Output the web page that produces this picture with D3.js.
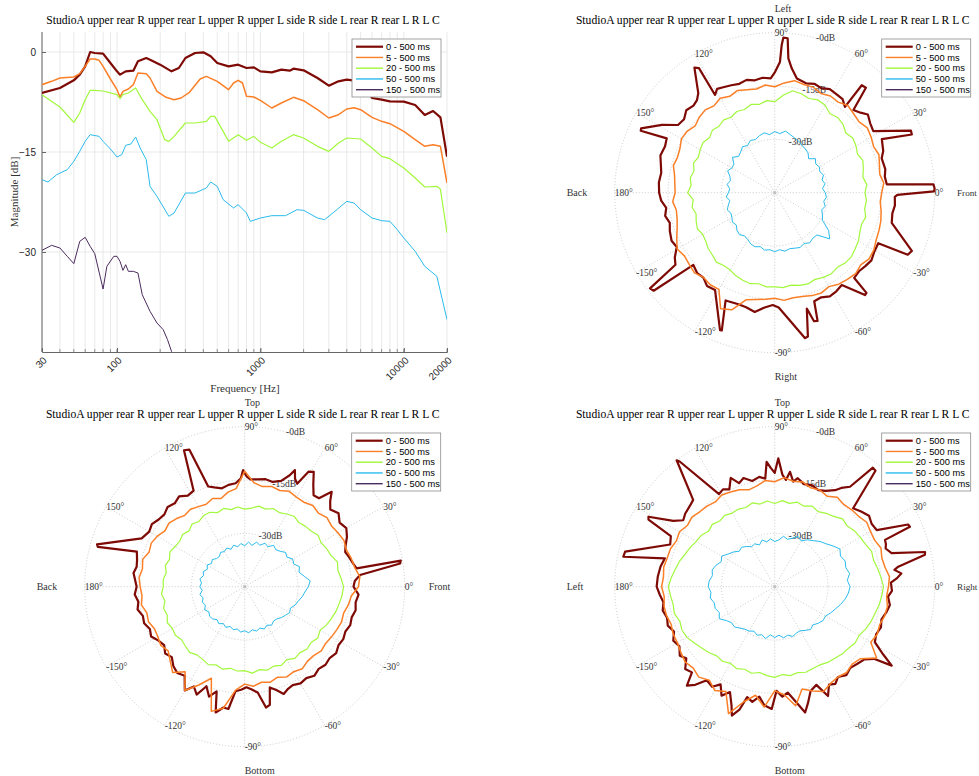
<!DOCTYPE html>
<html><head><meta charset="utf-8">
<script src="https://cdn.jsdelivr.net/npm/d3@7"></script>
<style>body{margin:0;background:#fff}svg{display:block}</style>
</head><body>
<svg id="c" width="979" height="776"></svg>
<script>
// ---------------- DATA ----------------
const titleText = "StudioA upper rear R upper rear L upper R upper L side R side L rear R rear L R L C";
const seriesLabels = ["0 - 500 ms", "5 - 500 ms", "20 - 500 ms", "50 - 500 ms", "150 - 500 ms"];
const xTickValues = [30, 100, 1000, 10000, 20000];
const yTickValues = [0, -15, -30];
const polarAngleTicks = [0, 30, 60, 90, 120, 150, 180, -150, -120, -90, -60, -30];
const polarRTicks = [0, -15, -30];

// frequency responses [Hz, dB]
const fr0 = [[30,-6.15],[40,-5.4],[50,-4.25],[55,-3.4],[60,-2.15],[65,0],[70,-0.15],[80,-0.25],[90,-1.65],[100,-2.9],[105,-3.4],[115,-2.9],[130,-2.8],[140,-1.4],[160,-0.9],[170,-1.15],[200,-1.9],[240,-2.9],[270,-2.4],[300,-0.9],[350,-0.15],[400,-0.05],[450,-0.65],[500,-1.65],[600,-2.15],[700,-1.9],[800,-2.4],[900,-2.3],[1000,-2.9],[1200,-3.05],[1400,-2.65],[1600,-2.8],[1700,-2.5],[2000,-2.75],[2500,-3.9],[3000,-5.05],[3500,-4.4],[4000,-4.15],[5000,-4.4],[5500,-5.6],[6000,-6.9],[7000,-7.15],[8000,-7.4],[10000,-7.45],[12000,-7.95],[14000,-9.45],[16000,-8.85],[18000,-9.8],[20000,-15.7]];
const fr5 = [[30,-4.9],[35,-4.4],[40,-3.9],[50,-3.75],[55,-3.25],[60,-2.15],[65,-1.05],[70,-1.05],[75,-1.25],[80,-2.15],[90,-4.05],[100,-5.65],[105,-6.75],[110,-5.9],[120,-5.55],[130,-4.9],[140,-3.15],[160,-3.25],[170,-3.9],[190,-5.9],[220,-6.8],[250,-7.15],[280,-6.9],[320,-6.05],[380,-4.05],[420,-3.65],[500,-4.4],[600,-5.65],[650,-4.65],[700,-4.25],[750,-4.65],[800,-6.65],[900,-6.75],[1000,-7.25],[1200,-8.4],[1400,-7.65],[1700,-6.8],[2000,-7.3],[2500,-8.65],[3000,-9.9],[3500,-9.4],[4000,-8.55],[4500,-8.35],[5000,-8.65],[6000,-9.8],[7000,-10.4],[8000,-10.75],[10000,-11.9],[12000,-13.15],[14000,-14.15],[16000,-13.9],[18000,-14.15],[20000,-19.65]];
const fr20 = [[30,-6.4],[40,-8.25],[50,-10.55],[55,-9.15],[60,-7.15],[65,-5.75],[70,-5.75],[80,-5.85],[100,-6.4],[105,-7.0],[110,-6.4],[120,-6.15],[135,-5.4],[150,-7.15],[170,-8.9],[190,-10.15],[215,-13.15],[230,-13.4],[250,-12.65],[300,-10.65],[350,-10.65],[420,-10.4],[450,-9.65],[480,-9.65],[550,-11.9],[600,-13.4],[700,-12.4],[800,-13.25],[900,-12.65],[1000,-13.55],[1200,-14.4],[1400,-13.4],[1700,-12.4],[2000,-12.9],[2500,-14.15],[3000,-14.9],[3500,-13.65],[4000,-12.9],[5000,-13.05],[6000,-14.4],[7000,-15.65],[8000,-16.0],[10000,-17.4],[12000,-18.9],[14000,-20.25],[17000,-20.15],[18000,-20.6],[20000,-27.15]];
const fr50 = [[30,-19.15],[33,-19.5],[38,-18.4],[45,-17.65],[50,-16.4],[55,-14.9],[60,-13.4],[65,-12.4],[75,-12.65],[80,-13.4],[90,-14.55],[100,-15.75],[108,-15.4],[115,-14.0],[125,-13.8],[135,-12.75],[145,-14.4],[160,-16.15],[170,-20.15],[190,-21.65],[230,-24.65],[250,-24.15],[300,-21.15],[350,-21.15],[420,-20.4],[450,-19.5],[500,-20.15],[550,-22.15],[650,-23.4],[700,-22.9],[800,-24.15],[850,-25.4],[1000,-24.9],[1200,-24.55],[1500,-24.55],[1800,-23.65],[2000,-23.75],[2500,-24.9],[2800,-25.15],[3200,-24.15],[4000,-22.4],[4500,-22.65],[5000,-23.65],[6000,-24.9],[7000,-25.3],[8000,-25.4],[9000,-26.65],[10000,-27.9],[12000,-29.9],[14000,-32.15],[17000,-33.65],[20000,-40.15]];
const fr150 = [[30,-29.75],[35,-29.0],[40,-29.4],[45,-30.65],[50,-31.75],[55,-28.4],[60,-27.8],[65,-29.15],[70,-30.25],[80,-35.55],[85,-32.15],[95,-30.65],[100,-30.65],[105,-31.4],[110,-32.75],[115,-31.9],[120,-32.9],[130,-32.9],[140,-33.15],[150,-36.4],[170,-38.9],[190,-40.65],[210,-41.65],[225,-43.15],[240,-44.9],[250,-46.5]];

// polar: 0-500 ms as [deg, dB] path points; others at 5 deg steps starting at 0 deg
const polarStep = 5;
// top-right (horizontal plane)
const trDark = [[-180,-12.5],[-176,-13.0],[-172,-14.2],[-168,-13.5],[-164,-14.3],[-160,-13.6],[-155,-13.0],[-151,-13.5],[-147,-11.5],[-144,-10.5],[-142.5,-0.8],[-141,-1.2],[-138.4,-14.4],[-134,-13.6],[-130,-13.8],[-126,-12.6],[-121.5,-12.9],[-111.7,-3.4],[-111,-3.5],[-114.5,-11.7],[-108,-12.0],[-104,-11.8],[-99.5,-11.0],[-95,-12.6],[-91,-13.4],[-88,-12.7],[-78.2,-3.2],[-77,-3.5],[-74.5,-11.2],[-73,-7.2],[-71.5,-7.0],[-70,-12.5],[-66,-12.8],[-62,-12.0],[-58,-12.3],[-54,-12.9],[-48.6,-6.6],[-47.5,-6.8],[-47,-12.2],[-43,-12.6],[-39,-12.2],[-35,-11.8],[-31,-12.4],[-26,-12.6],[-25,-3.7],[-23,-3.1],[-14.5,-11.0],[-10,-11.4],[-6,-11.0],[-2,-11.2],[-1,-10.5],[0.5,-0.2],[1.5,0],[3,-0.3],[4.3,-13.4],[8.3,-13.7],[12,-13.2],[17.8,-13.4],[21,-12.3],[26.6,-11.3],[23,-3.1],[24.5,-2.9],[32,-12.3],[36,-11.8],[40,-10.8],[43,-12.0],[46.4,-12.9],[49,-5.9],[51,-6.1],[50.7,-13.8],[54,-12.5],[58,-12.3],[62,-12.0],[66,-12.8],[70,-12.4],[74,-13.0],[79,-12.3],[82.2,-9.7],[84.2,-7.0],[85.2,-1.4],[86.8,-1.3],[87.3,-3.5],[87.7,-8.2],[89.8,-11.0],[92,-12.8],[96,-12.5],[100,-12.9],[104,-12.3],[108,-12.8],[112,-12.4],[116,-12.0],[119,-11.6],[121.4,-12.8],[121.3,-4.0],[122.7,-3.2],[127.5,-9.7],[130,-11.0],[133,-11.5],[137,-11.0],[141,-12.2],[145,-11.8],[149,-8.0],[154.3,-3.3],[155.2,-3.5],[153.3,-11.0],[157,-11.5],[162,-11.2],[166,-12.0],[170,-12.6],[175,-12.3],[180,-12.5]];
const trOrange = [-14.9,-14.2,-15.0,-14.5,-13.8,-14.3,-13.7,-13.2,-14.0,-13.6,-13.0,-13.9,-13.6,-14.2,-13.4,-13.5,-13.0,-14.0,-15.2,-14.6,-15.4,-15.0,-14.4,-15.1,-14.3,-15.2,-14.6,-15.0,-15.8,-14.9,-14.7,-15.6,-15.9,-15.5,-16.4,-16.8,-17.0,-16.2,-16.9,-16.6,-15.8,-14.6,-13.3,-14.0,-13.6,-13.1,-13.9,-13.4,-13.6,-9.0,-10.0,-13.8,-14.5,-14.9,-15.3,-14.6,-15.0,-14.8,-14.2,-13.9,-14.5,-13.6,-13.2,-12.8,-13.4,-12.6,-12.8,-13.5,-13.8,-14.1,-14.6,-15.2];
const trGreen = [-19.6,-19.0,-19.8,-19.2,-18.6,-19.3,-18.6,-18.2,-18.9,-17.8,-17.4,-17.9,-16.6,-16.2,-16.8,-16.2,-15.9,-17.5,-19.4,-19.0,-19.8,-19.3,-20.1,-19.8,-20.5,-20.0,-20.6,-20.2,-21.0,-20.4,-20.8,-21.3,-20.7,-21.5,-20.9,-21.4,-20.5,-22.0,-21.4,-22.1,-21.5,-21.0,-21.6,-21.3,-20.6,-20.2,-19.5,-20.0,-19.9,-19.2,-18.8,-18.5,-19.0,-18.4,-18.5,-18.2,-18.6,-18.0,-17.7,-18.1,-17.5,-17.2,-17.6,-17.0,-16.9,-17.4,-17.8,-18.6,-19.0,-18.5,-19.3,-19.1];
const trBlue = [-30.8,-31.5,-30.6,-31.2,-30.4,-31.0,-30.5,-30.9,-30.1,-31.5,-30.4,-30.0,-29.6,-29.0,-28.6,-28.1,-27.4,-28.3,-27.8,-28.6,-27.9,-28.4,-29.1,-28.8,-29.7,-29.2,-30.1,-30.6,-29.5,-31.0,-31.1,-30.4,-31.6,-32.1,-31.4,-32.3,-32.0,-31.3,-32.2,-31.5,-30.8,-31.4,-31.1,-30.5,-30.9,-30.0,-29.6,-30.2,-29.8,-29.1,-28.8,-29.3,-28.6,-28.9,-28.4,-28.9,-28.3,-28.7,-28.4,-28.0,-28.5,-27.8,-28.3,-28.2,-24.8,-26.5,-29.5,-30.2,-30.9,-30.3,-31.0,-30.4];
// bottom-left (median plane)
const blDark = [[-180,-14.6],[-176,-14.0],[-172,-14.8],[-168,-14.2],[-164,-15.2],[-160,-14.9],[-156,-15.8],[-152,-15.2],[-148,-16.4],[-144,-17.0],[-140,-15.8],[-136,-16.5],[-132,-15.0],[-128,-14.2],[-124,-14.8],[-120,-11.3],[-117,-13.5],[-114,-11.8],[-111,-15.0],[-108,-12.5],[-105,-14.5],[-103,-8.7],[-100,-10.5],[-97.6,-10.3],[-95,-15.5],[-92,-16.0],[-89,-16.7],[-86,-16.0],[-83,-15.0],[-80,-10.5],[-78,-11.0],[-76,-15.8],[-73,-14.6],[-70,-12.9],[-67,-13.8],[-64,-14.2],[-60,-13.6],[-56,-14.0],[-52,-13.2],[-48,-13.9],[-44,-13.4],[-40,-13.8],[-36,-13.2],[-32,-13.9],[-28,-13.6],[-24,-14.0],[-20,-13.4],[-16,-13.7],[-12,-13.1],[-8,-13.5],[-4,-12.9],[0,-14.4],[3,-14.0],[5.8,-12.4],[8.5,-0.8],[9.5,-0.5],[9.3,-13.1],[12,-13.8],[16,-14.5],[19,-15.1],[22,-14.4],[26,-13.0],[30,-12.0],[34,-12.8],[38,-11.5],[42,-12.6],[45,-11.0],[47.5,-8.8],[50,-12.5],[53,-12.8],[56,-10.5],[59,-7.3],[61,-8.0],[63,-12.5],[65,-11.5],[66.7,-9.3],[68,-11.2],[71,-13.5],[75,-14.5],[79,-14.2],[83,-14.6],[87,-14.8],[89,-14.0],[90.8,-12.2],[92,-14.5],[95,-15.8],[99,-16.0],[103,-16.6],[107,-15.8],[110,-15.0],[112,-3.4],[114,-3.0],[118,-14.4],[122,-14.8],[126,-13.6],[130,-14.4],[134,-13.8],[138,-14.6],[142,-14.3],[146,-13.5],[150,-14.0],[154.9,-13.0],[164,-1.8],[164.8,-2.2],[162,-13.1],[166,-13.8],[169.5,-14.1],[173,-13.5],[177,-14.2],[180,-14.6]];
const blOrange = [-13.0,-12.5,-13.6,-14.0,-14.6,-14.2,-14.7,-15.2,-14.8,-15.7,-15.2,-16.0,-15.9,-15.4,-16.2,-15.8,-16.4,-15.6,-12.5,-17.3,-18.0,-19.3,-18.6,-19.4,-19.0,-18.4,-18.8,-17.9,-17.2,-17.6,-16.6,-16.0,-16.4,-15.3,-15.8,-15.2,-15.6,-16.0,-15.5,-16.5,-16.2,-17.0,-16.8,-16.2,-16.9,-15.4,-13.5,-15.8,-11.3,-14.5,-17.6,-8.7,-10.3,-15.8,-17.6,-16.9,-17.7,-17.2,-17.9,-17.0,-17.4,-16.8,-17.6,-17.6,-16.9,-17.2,-16.8,-16.4,-16.0,-16.2,-15.4,-14.9];
const blGreen = [-17.2,-17.8,-18.4,-18.0,-19.2,-19.6,-20.2,-19.8,-20.6,-20.9,-21.4,-20.8,-21.4,-22.0,-21.6,-22.4,-22.0,-22.8,-23.2,-22.5,-23.0,-22.2,-22.8,-21.9,-21.9,-22.6,-22.0,-22.8,-22.2,-22.7,-22.4,-21.8,-22.5,-21.9,-22.6,-22.0,-22.1,-21.5,-22.2,-21.4,-21.8,-21.0,-21.5,-21.2,-21.8,-21.4,-20.9,-21.6,-21.4,-20.8,-21.6,-21.0,-21.7,-21.2,-21.4,-20.6,-21.3,-20.7,-21.2,-20.6,-21.3,-20.4,-20.8,-20.2,-20.6,-19.9,-20.5,-19.6,-19.0,-18.4,-18.0,-17.5];
const blBlue = [-27.1,-26.5,-28.0,-29.2,-28.6,-29.8,-29.4,-30.5,-30.0,-30.9,-31.4,-30.8,-32.0,-31.5,-32.6,-32.0,-33.2,-32.4,-33.5,-32.8,-33.6,-32.9,-33.8,-33.0,-33.6,-33.2,-33.9,-33.8,-33.1,-33.6,-32.8,-33.4,-32.6,-33.0,-32.2,-32.8,-32.4,-33.0,-32.2,-32.9,-32.3,-32.8,-32.0,-32.7,-32.1,-32.2,-32.9,-32.3,-33.0,-32.4,-33.1,-32.5,-32.9,-32.2,-32.6,-32.0,-32.7,-32.1,-32.6,-31.9,-32.5,-31.8,-32.4,-32.2,-31.5,-31.0,-30.4,-30.8,-29.9,-29.4,-28.6,-28.0];
// bottom-right (frontal plane)
const brDark = [[-180,-11.8],[-176,-12.6],[-172,-13.4],[-168,-12.8],[-164,-13.5],[-160,-13.0],[-156,-14.0],[-152,-12.7],[-148,-13.4],[-144,-12.0],[-141,-13.0],[-137.4,-10.8],[-134,-11.5],[-131.6,-7.8],[-129,-9.5],[-126,-12.5],[-122,-11.8],[-119,-13.6],[-116,-10.9],[-113,-12.8],[-110,-9.5],[-108.4,-6.8],[-106,-9.0],[-104,-13.0],[-101,-12.0],[-98,-13.8],[-95,-11.5],[-91.4,-10.6],[-89,-15.7],[-86,-14.0],[-83,-15.0],[-80,-12.5],[-76.4,-8.6],[-74,-11.0],[-71,-14.0],[-67,-15.0],[-64,-10.8],[-61,-13.5],[-58,-12.8],[-55,-14.0],[-51,-13.0],[-47,-13.8],[-43,-13.2],[-39,-12.5],[-36,-10.5],[-34,-5.3],[-32,-9.0],[-29,-12.8],[-25,-13.5],[-21,-13.0],[-17,-13.6],[-13,-12.8],[-9,-12.2],[-5,-13.0],[-2,-12.0],[2,-12.3],[4,-10.5],[6,-9.2],[8,-11.0],[9.2,-9.8],[12,-1.8],[13,-1.6],[16,-10.8],[19,-12.0],[21,-11.5],[23,-11.3],[23.9,-3.4],[25,-3.6],[29,-12.2],[33,-12.5],[37,-11.8],[41,-12.8],[45,-13.8],[49,-1.8],[50.5,-1.6],[53,-9.8],[56,-11.5],[58,-13.0],[62,-14.5],[65.7,-15.2],[70,-14.6],[74,-15.0],[78,-13.8],[80,-15.0],[82.4,-12.4],[84,-14.8],[86,-13.5],[88.4,-8.9],[90,-13.0],[92,-11.5],[93.7,-9.8],[95,-14.5],[98,-13.8],[102,-14.6],[106,-13.2],[109,-14.2],[112,-12.0],[115,-14.8],[118,-14.0],[121,-14.6],[127.2,-0.8],[127.8,0],[133.2,-11.5],[136,-12.0],[140.7,-12.5],[144,-13.2],[147,-11.0],[151,-4.4],[152,-4.8],[154,-12.5],[158,-13.3],[166.8,-1.8],[168.8,-1.6],[165.5,-13.1],[170,-12.4],[175,-12.0],[180,-11.8]];
const brOrange = [-13.0,-12.6,-13.5,-13.8,-13.2,-14.0,-13.9,-13.4,-14.2,-14.4,-14.8,-14.3,-15.6,-15.0,-15.4,-14.5,-14.9,-14.2,-15.5,-15.0,-16.2,-16.8,-16.0,-15.6,-15.2,-15.9,-15.4,-15.2,-14.6,-15.0,-14.1,-14.5,-13.8,-13.7,-13.3,-13.6,-13.2,-13.8,-13.4,-13.5,-14.0,-13.5,-13.4,-12.8,-12.1,-12.6,-11.8,-12.9,-11.3,-12.5,-7.0,-11.5,-14.0,-11.0,-15.7,-14.5,-11.0,-15.2,-13.8,-12.5,-13.6,-14.0,-13.5,-14.2,-13.5,-10.0,-13.8,-13.2,-13.6,-13.0,-12.8,-13.4];
const brGreen = [-14.4,-15.0,-15.6,-16.2,-16.0,-16.8,-17.2,-17.6,-18.4,-18.0,-19.2,-19.8,-20.6,-20.0,-20.9,-20.4,-21.2,-20.7,-21.6,-20.8,-21.4,-20.6,-21.3,-20.9,-21.1,-20.5,-20.9,-20.2,-20.7,-19.8,-19.5,-18.8,-18.2,-17.3,-16.6,-15.8,-15.1,-15.6,-16.0,-15.8,-16.6,-16.2,-16.5,-17.4,-18.2,-18.8,-19.6,-19.4,-20.1,-19.6,-20.3,-19.8,-20.5,-19.9,-19.5,-20.2,-19.6,-20.0,-19.4,-19.6,-19.6,-19.0,-18.7,-18.2,-18.0,-17.4,-17.6,-16.8,-16.2,-15.8,-15.2,-14.8];
const brBlue = [-23.8,-24.5,-23.6,-24.3,-23.9,-24.6,-23.8,-25.0,-26.2,-27.0,-28.1,-28.9,-30.1,-29.4,-30.5,-31.2,-30.6,-31.8,-32.3,-31.5,-32.2,-31.4,-32.5,-31.7,-32.0,-31.2,-30.5,-30.9,-29.8,-29.0,-27.8,-28.4,-27.4,-26.8,-27.2,-26.5,-26.3,-27.0,-26.6,-27.4,-27.2,-27.8,-27.0,-28.4,-29.2,-29.0,-29.8,-30.4,-30.6,-31.2,-30.5,-31.0,-30.2,-31.4,-30.7,-31.3,-30.4,-30.9,-30.1,-30.6,-30.7,-30.0,-29.3,-29.8,-29.0,-28.4,-28.5,-27.6,-26.8,-25.8,-24.9,-24.2];

// ---------------- STYLE ----------------
const colors = ["#7e0a05", "#fb7f26", "#a2f83c", "#2bbbec", "#4b2c5e"];
const widths = [2.2, 1.5, 1.2, 1.0, 1.0];
const serif = "'Liberation Serif','DejaVu Serif',serif";
const sans = "'Liberation Sans',Arial,sans-serif";

const svg = d3.select("#c");

function legend(g, x0, y0) {
  const lg = g.append("g").attr("transform", `translate(${x0},${y0})`);
  lg.append("rect").attr("width", 89).attr("height", 58).attr("fill", "#fff").attr("stroke", "#8c8c8c").attr("stroke-width", 0.8);
  seriesLabels.forEach((lab, i) => {
    const yy = 7.7 + i * 10.75;
    lg.append("line").attr("x1", 4).attr("x2", 31).attr("y1", yy).attr("y2", yy)
      .attr("stroke", colors[i]).attr("stroke-width", i === 0 ? 2.2 : 1.4);
    lg.append("text").attr("x", 34).attr("y", yy).attr("dy", "0.35em")
      .attr("font-family", sans).attr("font-size", 9.3).attr("fill", "#000").text(lab);
  });
}

// ---------------- LINE CHART ----------------
(function () {
  const L = 42, R = 447, T = 32, B = 352;
  const x = d3.scaleLog().domain([30, 20000]).range([L, R]);
  const y = d3.scaleLinear().domain([-45, 3]).range([B, T]);
  const g = svg.append("g");
  g.append("g").selectAll("line").data(x.ticks()).join("line")
    .attr("x1", d => x(d)).attr("x2", d => x(d)).attr("y1", T).attr("y2", B)
    .attr("stroke", "#e3e3e3").attr("stroke-width", 0.8);
  g.append("g").selectAll("line").data(yTickValues).join("line")
    .attr("x1", L).attr("x2", R).attr("y1", d => y(d)).attr("y2", d => y(d))
    .attr("stroke", "#e3e3e3").attr("stroke-width", 0.8);
  g.append("g").selectAll("line").data(x.ticks()).join("line")
    .attr("x1", d => x(d)).attr("x2", d => x(d)).attr("y1", B).attr("y2", B - 3)
    .attr("stroke", "#666").attr("stroke-width", 0.7);
  const xa = g.append("g").attr("transform", `translate(0,${B})`)
    .call(d3.axisBottom(x).tickValues(xTickValues).tickSize(-4).tickFormat(d3.format("d")));
  xa.select(".domain").attr("stroke", "#666");
  xa.selectAll(".tick line").attr("stroke", "#666");
  xa.selectAll(".tick text").attr("font-family", sans).attr("font-size", 10).attr("fill", "#262626")
    .attr("text-anchor", "end").attr("dy", null).attr("y", 0)
    .attr("transform", "translate(5,9) rotate(-45)");
  const ya = g.append("g").attr("transform", `translate(${L},0)`)
    .call(d3.axisLeft(y).tickValues(yTickValues).tickSize(-4).tickPadding(6));
  ya.select(".domain").attr("stroke", "#666").attr("d", `M0,${B}V${T}`);
  ya.selectAll(".tick line").attr("stroke", "#666");
  ya.selectAll(".tick text").attr("font-family", sans).attr("font-size", 10).attr("fill", "#262626");
  svg.append("clipPath").attr("id", "lc").append("rect").attr("x", L).attr("y", T).attr("width", R - L).attr("height", B - T);
  const line = d3.line().x(d => x(d[0])).y(d => y(d[1]));
  const all = [fr0, fr5, fr20, fr50, fr150];
  const lines = g.append("g").attr("clip-path", "url(#lc)");
  all.forEach((s, i) => {
    lines.append("path").attr("d", line(s)).attr("fill", "none")
      .attr("stroke", colors[i]).attr("stroke-width", widths[i]).attr("stroke-linejoin", "round");
  });
  g.append("text").attr("x", 243).attr("y", 24).attr("text-anchor", "middle")
    .attr("font-family", serif).attr("font-size", 11.6).text(titleText);
  g.append("text").attr("x", 245).attr("y", 392).attr("text-anchor", "middle")
    .attr("font-family", serif).attr("font-size", 11).attr("fill", "#333").text("Frequency [Hz]");
  g.append("text").attr("transform", "translate(18,192) rotate(-90)").attr("text-anchor", "middle")
    .attr("font-family", serif).attr("font-size", 11).attr("fill", "#333").text("Magnitude [dB]");
  legend(g, 352, 39);
})();

// ---------------- POLAR CHARTS ----------------
function polar(cx, cy, dark, orange, green, blue, lab) {
  const r = 160;
  const rs = d3.scaleLinear().domain([-45, 0]).range([0, r]);
  const g = svg.append("g");
  const grid = g.append("g").attr("stroke", "#bdbdbd").attr("stroke-width", 0.8).attr("stroke-dasharray", "1,2").attr("fill", "none");
  polarRTicks.forEach(t => grid.append("circle").attr("cx", cx).attr("cy", cy).attr("r", rs(t)));
  polarAngleTicks.forEach(a => {
    const th = a * Math.PI / 180;
    grid.append("line").attr("x1", cx).attr("y1", cy).attr("x2", cx + r * Math.cos(th)).attr("y2", cy - r * Math.sin(th));
  });
  g.append("circle").attr("cx", cx).attr("cy", cy).attr("r", 1.5).attr("fill", "none").attr("stroke", "#aaa").attr("stroke-width", 0.6);
  polarAngleTicks.forEach(a => {
    const th = a * Math.PI / 180;
    g.append("text").attr("x", cx + r * Math.cos(th)).attr("y", cy - r * Math.sin(th)).attr("dy", "0.35em")
      .attr("font-family", serif).attr("font-size", 9.5).attr("fill", "#333").text(a + "°");
  });
  polarRTicks.forEach(t => {
    const th = 75 * Math.PI / 180;
    g.append("text").attr("x", cx + rs(t) * Math.cos(th)).attr("y", cy - rs(t) * Math.sin(th)).attr("dy", "0.35em")
      .attr("font-family", serif).attr("font-size", 9.5).attr("fill", "#333").text("-" + Math.abs(t) + "dB");
  });
  const pt = (deg, db) => {
    const th = deg * Math.PI / 180;
    return [cx + rs(db) * Math.cos(th), cy - rs(db) * Math.sin(th)];
  };
  const line = d3.line().x(d => pt(d[0], d[1])[0]).y(d => pt(d[0], d[1])[1]).curve(d3.curveLinearClosed);
  const toPairs = vals => vals.map((v, i) => [i * polarStep, v]);
  const sets = [dark, toPairs(orange), toPairs(green), toPairs(blue)];
  sets.forEach((s, i) => {
    g.append("path").attr("d", line(s)).attr("fill", "none").attr("stroke", colors[i])
      .attr("stroke-width", widths[i]).attr("stroke-linejoin", "round");
  });
  const t = (x, y, s, fs) => g.append("text").attr("x", x).attr("y", y).attr("dy", "0.35em")
    .attr("font-family", serif).attr("font-size", fs || 10).attr("fill", "#333").text(s);
  t(cx, cy - 1.15 * r, lab[0]);
  t(cx, cy + 1.15 * r, lab[1]);
  t(cx - 1.3 * r, cy, lab[2]);
  // keep the right-hand label inside the 979 px page
  const rx = Math.min(cx + 1.15 * r, 957);
  t(rx, cy, lab[3], rx < cx + 1.15 * r ? 9.2 : 10);
  g.append("text").attr("x", cx - 2).attr("y", cy - 168.5).attr("text-anchor", "middle")
    .attr("font-family", serif).attr("font-size", 11.6).text(titleText);
  legend(g, cx + 107, cy - 153.7);
}

polar(774.7, 192.7, trDark, trOrange, trGreen, trBlue, ["Left", "Right", "Back", "Front"]);
polar(244.7, 586.7, blDark, blOrange, blGreen, blBlue, ["Top", "Bottom", "Back", "Front"]);
polar(774.7, 586.7, brDark, brOrange, brGreen, brBlue, ["Top", "Bottom", "Left", "Right"]);
</script>
</body></html>
